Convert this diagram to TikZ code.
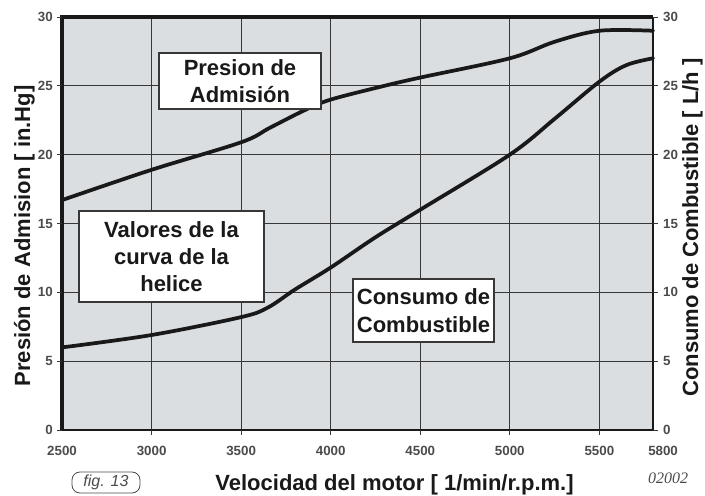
\documentclass[tikz,border=0pt]{standalone}
\usepackage{tikz}
\usepackage{fontspec}
\setmainfont{Liberation Sans}
\newfontfamily\codefont{Liberation Serif}
\definecolor{plotbg}{RGB}{218,222,224}
\definecolor{gridc}{RGB}{55,55,55}
\definecolor{tickc}{RGB}{75,75,75}
\definecolor{inkc}{RGB}{25,25,25}

\begin{document}
\begin{tikzpicture}
[x=0.75pt,y=0.75pt,
 every node/.style={inner sep=0pt,outer sep=0pt},
 tick/.style={font=\fontsize{10}{11}\selectfont\bfseries,text=tickc},
 tk/.style={draw=gridc,line width=0.7pt},
 ttl/.style={font=\fontsize{16.5}{20}\selectfont\bfseries,text=inkc},
 lbl/.style={rectangle,draw=gridc,line width=0.8pt,fill=white,align=center,font=\fontsize{16.5}{20.5}\selectfont\bfseries,text=inkc},
 curve/.style={draw=inkc,line width=2.8pt,line join=round,line cap=round},
 thinframe/.style={draw=inkc,line width=1.5pt},
 thickframe/.style={draw=inkc,line width=3pt,line join=miter}]
\useasboundingbox (0,0) rectangle (705,495);

\begin{scope}[x=0.134318pt,y=10.325pt,shift={(-289.27pt,48.75pt)}]
\fill[plotbg] (2500,0) rectangle (5800,30);
\draw[gridc,line width=0.9pt] (2500,0) grid[xstep=500,ystep=5] (5800,30);
\draw[curve] plot[smooth,tension=0.55] coordinates {(2500,16.7) (3000,18.9) (3500,20.9) (3660,21.95) (3850,23.2) (4000,24.0) (4300,25.0) (4500,25.6) (5000,27.0) (5250,28.2) (5500,29.0) (5800,29.0)};
\draw[curve] plot[smooth,tension=0.55] coordinates {(2500,6.0) (3000,6.9) (3500,8.2) (3650,8.9) (3800,10.2) (4000,11.8) (4250,14.0) (4500,16.0) (5000,20.0) (5250,22.6) (5500,25.3) (5650,26.5) (5800,27.0)};
\draw[thinframe] (2500,0) -- (5800,0) -- (5800,30);
\draw[thickframe] (2500,0) -- (2500,30) -- (5800,30);
\draw[tk] (2500,0) -- ++(-4pt,0) (2500,5) -- ++(-4pt,0) (2500,10) -- ++(-4pt,0) (2500,15) -- ++(-4pt,0) (2500,20) -- ++(-4pt,0) (2500,25) -- ++(-4pt,0) (2500,30) -- ++(-4pt,0);
\draw[tk] (5800,0) -- ++(4pt,0) (5800,5) -- ++(4pt,0) (5800,10) -- ++(4pt,0) (5800,15) -- ++(4pt,0) (5800,20) -- ++(4pt,0) (5800,25) -- ++(4pt,0) (5800,30) -- ++(4pt,0);
\draw[tk] (3000,0) -- ++(0,-4pt) (3500,0) -- ++(0,-4pt) (4000,0) -- ++(0,-4pt) (4500,0) -- ++(0,-4pt) (5000,0) -- ++(0,-4pt) (5500,0) -- ++(0,-4pt);

\node[tick,anchor=east] (l0)  at ([xshift=-7pt]2500,0)  {0};
\node[tick,anchor=east] (l5)  at ([xshift=-7pt]2500,5)  {5};
\node[tick,anchor=east] (l10) at ([xshift=-7pt]2500,10) {10};
\node[tick,anchor=east] (l15) at ([xshift=-7pt]2500,15) {15};
\node[tick,anchor=east] (l20) at ([xshift=-7pt]2500,20) {20};
\node[tick,anchor=east] (l25) at ([xshift=-7pt]2500,25) {25};
\node[tick,anchor=east] (l30) at ([xshift=-7pt]2500,30) {30};
\node[tick,anchor=west] (r0)  at ([xshift=7.5pt]5800,0)  {0};
\node[tick,anchor=west] (r5)  at ([xshift=7.5pt]5800,5)  {5};
\node[tick,anchor=west] (r10) at ([xshift=7.5pt]5800,10) {10};
\node[tick,anchor=west] (r15) at ([xshift=7.5pt]5800,15) {15};
\node[tick,anchor=west] (r20) at ([xshift=7.5pt]5800,20) {20};
\node[tick,anchor=west] (r25) at ([xshift=7.5pt]5800,25) {25};
\node[tick,anchor=west] (r30) at ([xshift=7.5pt]5800,30) {30};
\node[tick,anchor=base] (x2500) at ([yshift=-19.5pt]2500,0) {2500};
\node[tick,anchor=base] (x3000) at ([yshift=-19.5pt]3000,0) {3000};
\node[tick,anchor=base] (x3500) at ([yshift=-19.5pt]3500,0) {3500};
\node[tick,anchor=base] (x4000) at ([yshift=-19.5pt]4000,0) {4000};
\node[tick,anchor=base] (x4500) at ([yshift=-19.5pt]4500,0) {4500};
\node[tick,anchor=base] (x5000) at ([yshift=-19.5pt]5000,0) {5000};
\node[tick,anchor=base] (x5500) at ([yshift=-19.5pt]5500,0) {5500};
\node[tick,anchor=base] (x5800) at ([xshift=7.5pt,yshift=-19.5pt]5800,0) {5800};
\end{scope}

\node[lbl,minimum width=121.5pt,minimum height=42pt] (presion) at (240,414) {Presion de\\Admisión};
\node[lbl,minimum width=138.75pt,minimum height=68.25pt] (helice) at (171.5,238.5) {Valores de la\\curva de la\\helice};
\node[lbl,minimum width=105.75pt,minimum height=47.25pt] (consumo) at (423.5,184.5) {Consumo de\\Combustible};

\node[ttl,anchor=base] (xttl) at (394.5,5) {Velocidad del motor [ 1/min/r.p.m.]};
\node[ttl,rotate=90,anchor=base] (lttl) at (30,259) {Presión de Admision [ in.Hg]};
\node[ttl,rotate=90,anchor=base] (rttl) at (698,267.5) {Consumo de Combustible [ L/h ]};

\node[draw=tickc,line width=0.6pt,rounded corners=6pt,minimum width=51pt,minimum height=15.75pt,font=\fontsize{12}{14}\selectfont\itshape,text=tickc] (fig) at (106,12.5) {fig. 13};
\node[font={\codefont\itshape\fontsize{12}{14}\selectfont},text=tickc] (code) at (668,17) {02002};
\end{tikzpicture}
\end{document}
